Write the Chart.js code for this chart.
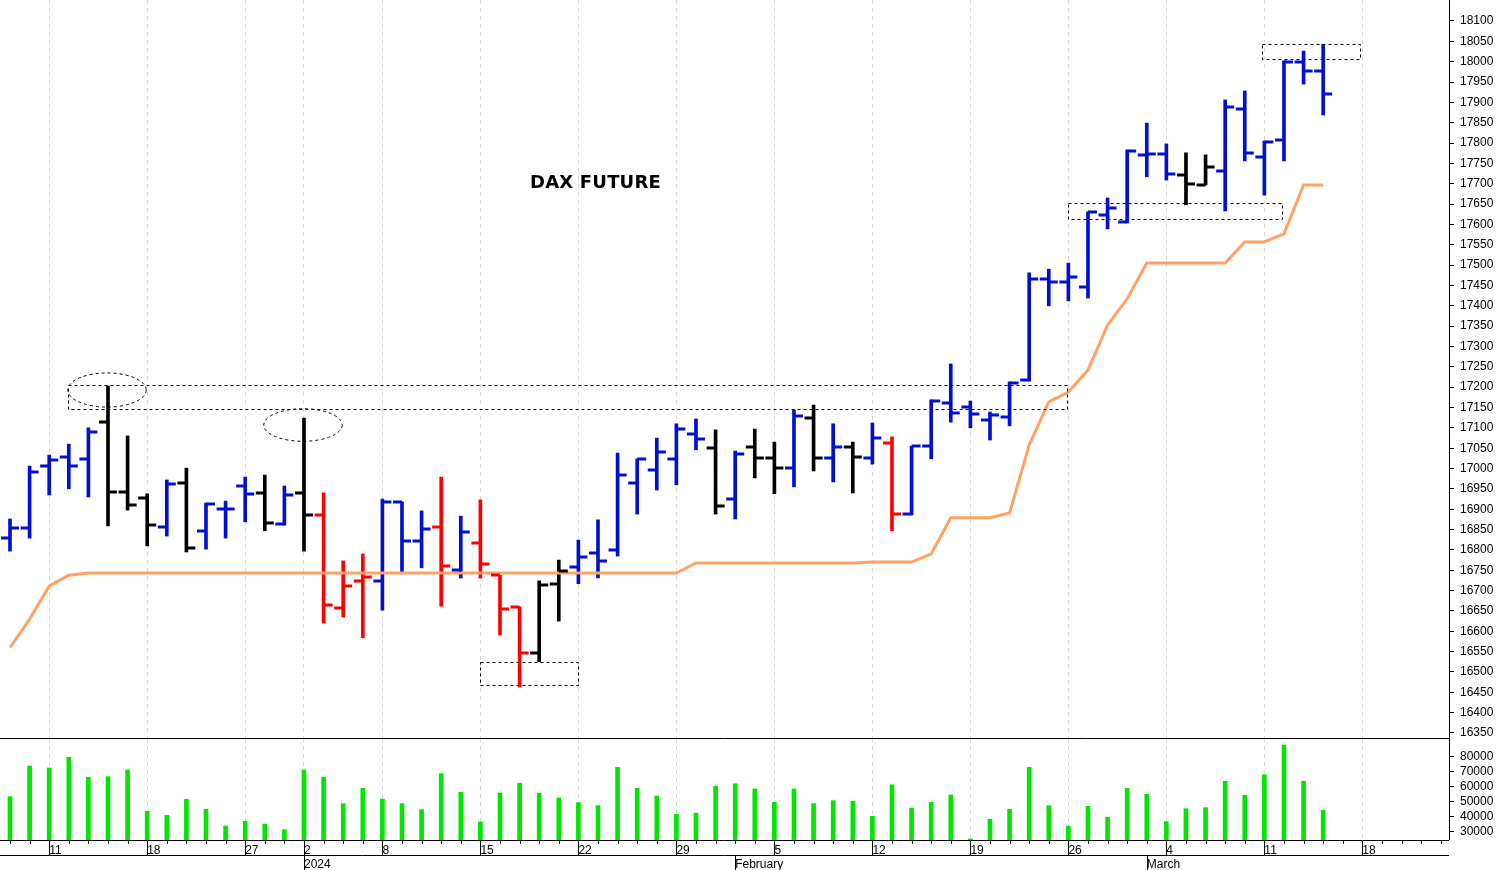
<!DOCTYPE html>
<html>
<head>
<meta charset="utf-8">
<script src="https://cdn.jsdelivr.net/npm/chart.js@4.4.1/dist/chart.umd.min.js"></script>
<style>
  body { margin: 0; background: #fff; width: 1497px; height: 870px; overflow: hidden; position: relative; }
  #priceWrap { position: absolute; left: 0; top: 0; width: 1497px; height: 738px; }
  #volWrap { position: absolute; left: 0; top: 738px; width: 1497px; height: 132px; }
  #title { position: absolute; left: 530px; top: 171px; font: bold 18px "DejaVu Sans", sans-serif; letter-spacing: 0.2px; }
</style>
</head>
<body>
<div id="priceWrap"><canvas id="priceChart" width="1497" height="738"></canvas></div>
<div id="volWrap"><canvas id="volChart" width="1497" height="132"></canvas></div>
<div id="title">DAX FUTURE</div>
<script>
/* ==============================
   DATA (one entry per trading day, 7 Dec 2023 .. 14 Mar 2024)
================================ */
const opens  = [16829,16854,17006,17028,17024,17114,16942,16928,16856,16965,16847,16901,16957,16940,16864,16940,
                16886,16657,16724,16724,16918,16822,16856,16751,16817,16738,16660,16547,16717,16758,16793,16800,
                16965,16996,17024,17085,17051,16925,17053,17026,17001,17124,17026,17053,17026,17063,16888,17055,
                17161,17151,17119,17127,17218,17466,17459,17446,17623,17606,17771,17773,17721,17697,17731,17884,
                17766,17808,17999,17977];
const highs  = [16876,17006,17033,17060,17100,17203,17080,16938,16972,17001,16915,16920,16979,16984,16957,17124,
                16940,16773,16790,16925,16918,16896,16979,16883,16923,16738,16660,16724,16775,16824,16874,17038,
                17024,17075,17110,17122,17095,17043,17097,17065,17144,17156,17110,17065,17112,17078,17055,17169,
                17257,17166,17139,17213,17481,17490,17505,17631,17665,17783,17849,17798,17776,17771,17906,17928,
                17805,18002,18026,18043];
const lows   = [16797,16829,16935,16950,16930,16859,16898,16810,16834,16795,16802,16829,16869,16847,16861,16797,
                16620,16635,16584,16652,16746,16756,16662,16731,16731,16591,16463,16525,16625,16717,16731,16785,
                16888,16947,16960,17046,16888,16876,16977,16938,16955,16994,16967,16940,17011,16847,16886,17024,
                17114,17100,17070,17105,17215,17400,17412,17419,17589,17604,17717,17709,17648,17697,17633,17756,
                17672,17756,17945,17869];
const closes = [16854,16992,17021,17006,17090,16942,16910,16861,16962,16805,16913,16901,16938,16866,16935,16886,
                16665,16711,16734,16918,16822,16851,16761,16844,16765,16655,16547,16714,16748,16783,16773,16984,
                17024,17041,17097,17073,16908,17036,17026,17001,17129,17026,17053,17028,17075,16888,17055,17165,
                17137,17134,17132,17210,17466,17459,17471,17631,17640,17780,17773,17724,17699,17741,17889,17776,
                17803,17999,17977,17921];
// b = blue, k = black, r = red
const barColors = "bbbbbkkkbkbbbkbkrrrbbbrbrrrkk" + "bbbbbbb" + "kbkkbkbkbr" + "bbbbbbbbbbbbbb" + "kk" + "bbbbbb";
const trendLine = [16560,16630,16711,16738,16743,16743,16743,16743,16743,16743,16743,16743,16743,16743,16743,16743,
                   16743,16743,16743,16743,16743,16743,16743,16743,16743,16743,16743,16743,16743,16743,16743,16743,
                   16743,16743,16743,16768,16768,16768,16768,16768,16768,16768,16768,16768,16770,16770,16770,16790,
                   16879,16879,16879,16891,17058,17164,17188,17242,17353,17417,17505,17505,17505,17505,17505,17557,
                   17557,17577,17697,17697];
const volumes = [53400,73800,72500,79600,66300,66700,71100,43600,40900,51600,44900,33800,36900,35100,31300,71100,
                 66300,48700,58900,51800,48700,44700,68700,56300,36500,55800,62300,55600,52500,49400,47400,72900,
                 58900,53800,41600,42300,60300,62000,58500,49600,58500,48700,50700,50300,40300,61300,45800,49600,
                 54500,25200,38300,44900,72900,47400,33800,46900,39600,58900,54900,36700,45300,46000,63600,54300,
                 68000,87800,63600,44300];
const priceTicks = [];
for (let v = 16350; v <= 18100; v += 50) priceTicks.push(v);
const volTicks = [30000, 40000, 50000, 60000, 70000, 80000];
// x axis labels, index -> label (index 0 = 7 Dec)
const xLabels = { 2: "11", 7: "18", 12: "27", 15: ["2", "2024"], 19: "8", 24: "15", 29: "22", 34: "29",
                  37: ["", "February"], 39: "5", 44: "12", 49: "19", 54: "26", 58: ["", "March"],
                  59: "4", 64: "11", 69: "18" };
const gridDays = [2, 7, 12, 15, 19, 24, 29, 34, 39, 44, 49, 54, 59, 64, 69];
const rowTwo = [15, 37, 58];
// dashed annotation boxes / ellipses in data units
const boxes = [
    { x0: 2.95, x1: 53.9, y0: 17146, y1: 17205 },
    { x0: 24.0, x1: 29.0, y0: 16468, y1: 16525 },
    { x0: 54.0, x1: 64.9, y0: 17613, y1: 17653 },
    { x0: 63.9, x1: 68.9, y0: 18007, y1: 18043 }
];
const ellipses = [
    { x: 4.95, y: 17193, rx: 2.0, ry: 42 },
    { x: 14.95, y: 17107, rx: 2.0, ry: 40 }
];

const X_MIN = -0.51, X_MAX = 73.42;
const allDays = [];
for (let i = 0; i <= 73; i++) allDays.push(i);
const colorMap = { b: "#0010d0", k: "#000000", r: "#ff0000" };

/* ==============================
   OPEN / CLOSE TICKS + ANNOTATIONS
================================ */
const ohlcPlugin = {
    id: "ohlc",
    afterDatasetsDraw(chart) {
        const ctx = chart.ctx, xs = chart.scales.x, ys = chart.scales.y;
        ctx.save();
        ctx.lineWidth = 3;
        opens.forEach((o, i) => {
            const x = xs.getPixelForValue(i);
            ctx.strokeStyle = colorMap[barColors[i]];
            ctx.beginPath();
            ctx.moveTo(x - 9, Math.round(ys.getPixelForValue(o)));
            ctx.lineTo(x, Math.round(ys.getPixelForValue(o)));
            ctx.moveTo(x, Math.round(ys.getPixelForValue(closes[i])));
            ctx.lineTo(x + 9, Math.round(ys.getPixelForValue(closes[i])));
            ctx.stroke();
        });
        ctx.strokeStyle = "#000";
        ctx.lineWidth = 1;
        ctx.setLineDash([3, 3]);
        boxes.forEach(b => {
            const x0 = xs.getPixelForValue(b.x0), x1 = xs.getPixelForValue(b.x1);
            const y0 = ys.getPixelForValue(b.y1), y1 = ys.getPixelForValue(b.y0);
            ctx.strokeRect(Math.round(x0) + 0.5, Math.round(y0) + 0.5, Math.round(x1 - x0), Math.round(y1 - y0));
        });
        ellipses.forEach(e => {
            const cx = xs.getPixelForValue(e.x), cy = ys.getPixelForValue(e.y);
            const rx = xs.getPixelForValue(e.x + e.rx) - cx;
            const ry = ys.getPixelForValue(e.y - e.ry) - cy;
            ctx.beginPath();
            ctx.ellipse(cx, cy, rx, ry, 0, 0, Math.PI * 2);
            ctx.stroke();
        });
        ctx.setLineDash([]);
        const a = chart.chartArea;
        ctx.beginPath();
        ctx.moveTo(a.right + 0.5, 0);
        ctx.lineTo(a.right + 0.5, a.bottom);
        ctx.stroke();
        ctx.restore();
    }
};

const axisPlugin = {
    id: "axisFrame",
    afterDraw(chart) {
        const ctx = chart.ctx, xs = chart.scales.x, a = chart.chartArea;
        ctx.save();
        ctx.strokeStyle = "#000";
        ctx.lineWidth = 1;
        ctx.beginPath();
        ctx.moveTo(0, 0.5); ctx.lineTo(a.right, 0.5);
        ctx.moveTo(0, a.bottom + 0.5); ctx.lineTo(a.right, a.bottom + 0.5);
        ctx.moveTo(0, a.bottom + 15.5); ctx.lineTo(a.right, a.bottom + 15.5);
        ctx.moveTo(a.right + 0.5, 0); ctx.lineTo(a.right + 0.5, a.bottom);
        allDays.forEach(i => {
            const x = Math.round(xs.getPixelForValue(i)) + 0.5;
            if (x > a.right) return;
            const long = gridDays.includes(i);
            ctx.moveTo(x, a.bottom);
            ctx.lineTo(x, a.bottom + (long ? 15 : 4));
            if (rowTwo.includes(i)) {
                ctx.moveTo(x, a.bottom + 15);
                ctx.lineTo(x, a.bottom + 32);
            }
        });
        ctx.stroke();
        ctx.restore();
    }
};

const gridColor = c => (c.tick && gridDays.includes(c.tick.value)) ? "#d8d8d8" : "rgba(0,0,0,0)";
const font = { family: "Liberation Sans, Arial, sans-serif", size: 12 };
const noPad = s => { s.paddingTop = 0; s.paddingBottom = 0; s.paddingLeft = 0; s.paddingRight = 0; };

/* ==============================
   PRICE CHART
================================ */
new Chart(document.getElementById("priceChart"), {
    type: "bar",
    data: {
        datasets: [
            {
                type: "line",
                data: trendLine.map((v, i) => ({ x: i, y: v })),
                borderColor: "#ffa264",
                borderWidth: 3,
                pointRadius: 0,
                tension: 0
            },
            {
                type: "bar",
                data: lows.map((l, i) => ({ x: i, y: [l, highs[i]] })),
                backgroundColor: opens.map((o, i) => colorMap[barColors[i]]),
                barThickness: 3
            }
        ]
    },
    options: {
        responsive: false,
        animation: false,
        devicePixelRatio: 1,
        layout: { padding: 0 },
        plugins: { legend: { display: false }, tooltip: { enabled: false } },
        scales: {
            x: {
                type: "linear", min: X_MIN, max: X_MAX, offset: false,
                afterBuildTicks: s => { s.ticks = allDays.map(v => ({ value: v })); },
                afterFit: s => { s.height = 0; noPad(s); },
                ticks: { display: false },
                grid: { color: gridColor, drawTicks: false, offset: false },
                border: { display: false, dash: [4, 4] }
            },
            y: {
                position: "right", min: 16337.7, max: 18151.6,
                afterBuildTicks: s => { s.ticks = priceTicks.map(v => ({ value: v })); },
                afterFit: s => { s.width = 48; noPad(s); },
                ticks: { color: "#000", font, padding: 6, callback: v => String(v) },
                grid: { drawOnChartArea: false, tickLength: 5, color: "#000" },
                border: { display: false }
            }
        }
    },
    plugins: [ohlcPlugin]
});

/* ==============================
   VOLUME CHART
================================ */
new Chart(document.getElementById("volChart"), {
    type: "bar",
    data: {
        datasets: [{
            data: volumes.map((v, i) => ({ x: i, y: v })),
            backgroundColor: "#00e600",
            barThickness: 4
        }]
    },
    options: {
        responsive: false,
        animation: false,
        devicePixelRatio: 1,
        layout: { padding: 0 },
        plugins: { legend: { display: false }, tooltip: { enabled: false } },
        scales: {
            x: {
                type: "linear", min: X_MIN, max: X_MAX, offset: false,
                afterBuildTicks: s => { s.ticks = allDays.map(v => ({ value: v })); },
                afterFit: s => { s.height = 30; noPad(s); },
                ticks: {
                    autoSkip: false, maxRotation: 0, align: "start", padding: 3,
                    color: "#000", font,
                    callback: v => xLabels[v] !== undefined ? xLabels[v] : ""
                },
                grid: { color: gridColor, drawTicks: false, offset: false },
                border: { display: false, dash: [4, 4] }
            },
            y: {
                position: "right", min: 24470, max: 92470,
                afterBuildTicks: s => { s.ticks = volTicks.map(v => ({ value: v })); },
                afterFit: s => { s.width = 48; noPad(s); },
                ticks: { color: "#000", font, padding: 6, callback: v => String(v) },
                grid: { drawOnChartArea: false, tickLength: 5, color: "#000" },
                border: { display: false }
            }
        }
    },
    plugins: [axisPlugin]
});
</script>
</body>
</html>
